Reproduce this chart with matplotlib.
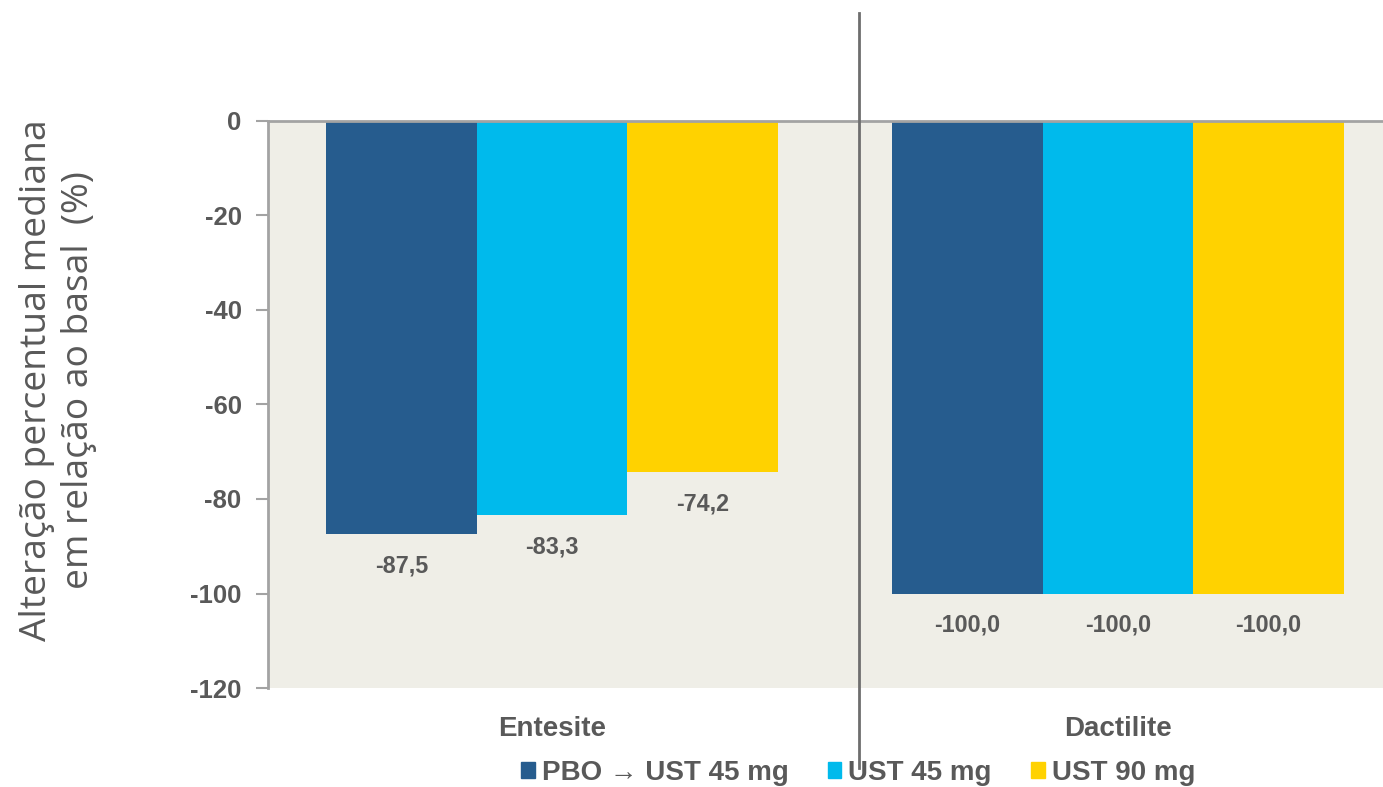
import numpy as np
import matplotlib
matplotlib.use("Agg")
import matplotlib.pyplot as plt
from matplotlib.lines import Line2D
from matplotlib.patches import Patch

plt.rcParams["font.family"] = ["Liberation Sans", "DejaVu Sans"]

categories = ["Entesite", "Dactilite"]
series_names = ["PBO \u2192 UST 45 mg", "UST 45 mg", "UST 90 mg"]
pbo_ust45 = [-87.5, -100.0]
ust45 = [-83.3, -100.0]
ust90 = [-74.2, -100.0]
yticks = [0, -20, -40, -60, -80, -100, -120]

colors = ["#265C8E", "#00BAEC", "#FFD200"]
text_grey = "#595959"
axis_grey = "#A3A3A3"

W, H = 1383, 787
fig = plt.figure(figsize=(W / 100, H / 100), dpi=100)
ax = fig.add_axes([268 / W, 1 - 688 / H, (W - 268) / W, (688 - 121) / H])
ax.set_facecolor("#EFEEE7")

x = np.arange(len(categories))
width = 0.266
series = [pbo_ust45, ust45, ust90]
for i, (vals, name, c) in enumerate(zip(series, series_names, colors)):
    pos = x + (i - 1) * width
    ax.bar(pos, vals, width, color=c, label=name, zorder=2)
    for px, v in zip(pos, vals):
        ax.annotate(f"{v:.1f}".replace(".", ","), (px, v), xytext=(0, -23),
                    textcoords="offset points", ha="center", va="center",
                    fontsize=16.8, fontweight="bold", color=text_grey)

ax.set_xlim(-0.502, 1.468)
ax.set_ylim(-120, 0)
ax.set_yticks(yticks)
ax.set_yticklabels([str(t) for t in yticks], fontsize=18.5, fontweight="bold",
                   color=text_grey)
ax.tick_params(axis="y", length=9, width=1.5, color=axis_grey, pad=10)
ax.set_xticks(x)
ax.set_xticklabels(categories, fontsize=20, fontweight="bold", color=text_grey)
ax.tick_params(axis="x", length=0, pad=20)

for side in ["right", "bottom"]:
    ax.spines[side].set_visible(False)
ax.spines["left"].set_color(axis_grey)
ax.spines["left"].set_linewidth(2)
ax.spines["top"].set_color(axis_grey)
ax.spines["top"].set_linewidth(2)

fig.text(58 / W, 1 - 380 / H, "Alteração percentual mediana\nem relação ao basal  (%)",
         rotation=90, ha="center", va="center", multialignment="center",
         fontsize=26.8, color=text_grey, family=["Open Sans", "DejaVu Sans"],
         linespacing=1.2)

# vertical separator between the two groups
fig.add_artist(Line2D([859 / W, 859 / W], [1 - 13 / H, 1 - 768 / H],
                      transform=fig.transFigure, color="#6E6E6E", lw=2))

handles = [Patch(color=c) for c in colors]
fig.legend(handles, series_names, loc="center", bbox_to_anchor=(858 / W, 1 - 773 / H),
           ncol=3, frameon=False, handlelength=0.5, handleheight=0.5,
           handletextpad=0.25, columnspacing=1.4,
           prop={"size": 20, "weight": "bold"}, labelcolor=text_grey)

fig.savefig("out.png", dpi=100)
